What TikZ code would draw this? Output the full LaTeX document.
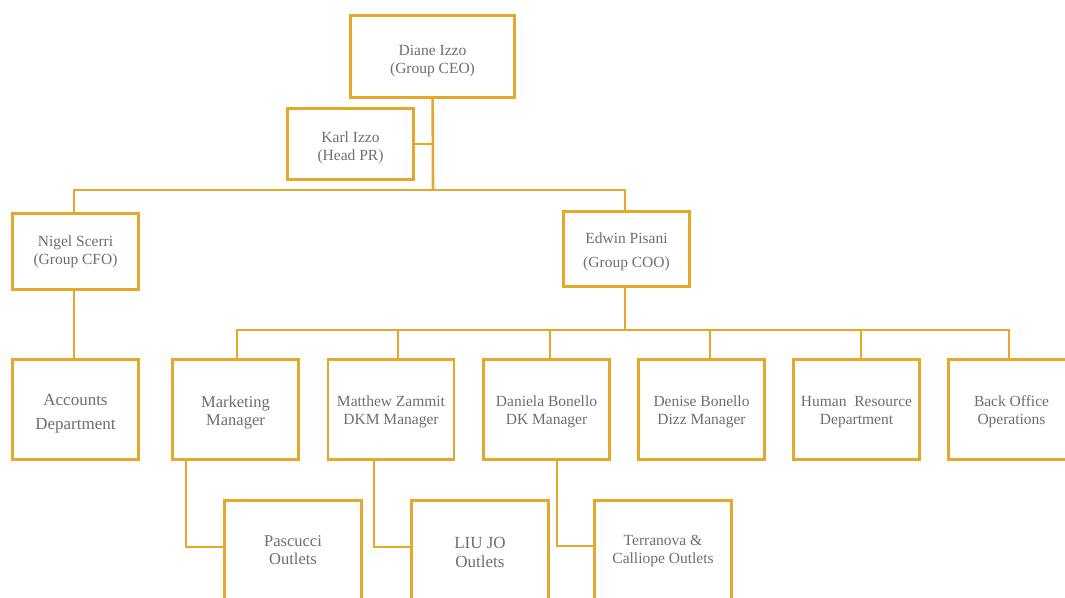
\documentclass[tikz,border=0pt]{standalone}
\usepackage{fontspec}
\setmainfont{Liberation Serif}
\definecolor{orgGold}{HTML}{E4A92B}
\definecolor{orgText}{HTML}{6E6E6E}
\newcommand{\topgap}[1]{\rule{0pt}{#1}}

\begin{document}
\begin{tikzpicture}
    [x = 1pt, y = -1pt,
     box/.style = {draw = orgGold, line width = 2.6pt, fill = white,
                   text = orgText, align = center, inner sep = 0pt,
                   font = \fontsize{15.5}{18}\selectfont},
     topBox/.style = {box, minimum width = 126pt, minimum height = 76pt},
     unitBox/.style = {box, minimum width = 126pt, minimum height = 100pt},
     outletBox/.style = {box, minimum width = 137pt, minimum height = 100pt},
     bigText/.style = {font = \fontsize{17}{19}\selectfont},
     link/.style = {draw = orgGold, line width = 2.6pt}]

    \useasboundingbox (0,0) rectangle (1065,597);

    % top of the chart
    \node at (432.5, 56.5) [box, minimum width = 164pt,
                            minimum height = 82pt] (ceo)
          {\topgap{19pt}Diane Izzo\\(Group CEO)};
    \node at (350.5,144)   [box, minimum width = 126pt,
                            minimum height = 71pt] (pr)
          {\topgap{19pt}Karl Izzo\\(Head PR)};
    \node at (75.5, 251.5) [topBox] (cfo) {Nigel Scerri\\(Group CFO)};
    \node at (626.5,249)   [topBox, minimum height = 75pt] (coo)
          {\topgap{17pt}Edwin Pisani\\[6pt](Group COO)};

    \coordinate (topBus) at (433,190);
    \coordinate (midBus) at (625,330);

    % departments
    \node at (75.5,  409.5) [unitBox, font = \fontsize{17}{23.5}\selectfont]
          (accounts) {\topgap{20pt}Accounts\\Department};
    \node at (235.5, 409.5) [unitBox, font = \fontsize{16.5}{18}\selectfont]
          (marketing) {\topgap{18pt}Marketing\\Manager};
    \node at (391,   409.5) [unitBox] (dkm) {\topgap{15pt}Matthew Zammit\\DKM Manager};
    \node at (546.5, 409.5) [unitBox] (dk) {\topgap{15pt}Daniela Bonello\\DK Manager};
    \node at (701.5, 409.5) [unitBox] (dizz) {\topgap{15pt}Denise Bonello\\Dizz Manager};
    \node at (856.5, 409.5) [unitBox] (hr) {\topgap{15pt}Human\ \ Resource\\Department};
    \node at (1011.5,409.5) [unitBox] (backOffice) {\topgap{15pt}Back Office\\Operations};

    % outlets
    \node at (293, 550.5) [outletBox, font = \fontsize{16.5}{18}\selectfont]
          (pascucci) {Pascucci\\Outlets};
    \node at (480, 550.5) [outletBox, bigText] (liuJo)
          {\topgap{15pt}LIU JO\\Outlets};
    \node at (663, 550.5) [outletBox] (terranova)
          {Terranova \&\\Calliope Outlets};

    \draw [link] (ceo) -- (topBus);
    \draw [link] (pr.east) -- (pr.east -| topBus);
    \draw [link] ([xshift = -1.5pt]cfo.north) |- (topBus) -| ([xshift = -1.5pt]coo.north);
    \draw [link] ([xshift = -1.5pt]cfo.south) -- ([xshift = -1.5pt]accounts.north);

    \draw [link] ([xshift = -1.5pt]coo.south) -- (midBus);
    \draw [link] ([xshift = 1.5pt]marketing.north) |- (midBus)
                 -| ([xshift = -2.5pt]backOffice.north);
    \draw [link] ([xshift = 7pt]dkm.north) -- ([xshift = 7pt]dkm.north |- midBus);
    \draw [link] ([xshift = 3.5pt]dk.north) -- ([xshift = 3.5pt]dk.north |- midBus);
    \draw [link] ([xshift = 8.5pt]dizz.north) -- ([xshift = 8.5pt]dizz.north |- midBus);
    \draw [link] ([xshift = 4.5pt]hr.north) -- ([xshift = 4.5pt]hr.north |- midBus);

    \draw [link] ([xshift = -49.5pt]marketing.south) |- ([yshift = 3.5pt]pascucci.west);
    \draw [link] ([xshift = -17pt]dkm.south) |- ([yshift = 3.5pt]liuJo.west);
    \draw [link] ([xshift = 10.5pt]dk.south) |- ([yshift = 4.5pt]terranova.west);
  \end{tikzpicture}
\end{document}
